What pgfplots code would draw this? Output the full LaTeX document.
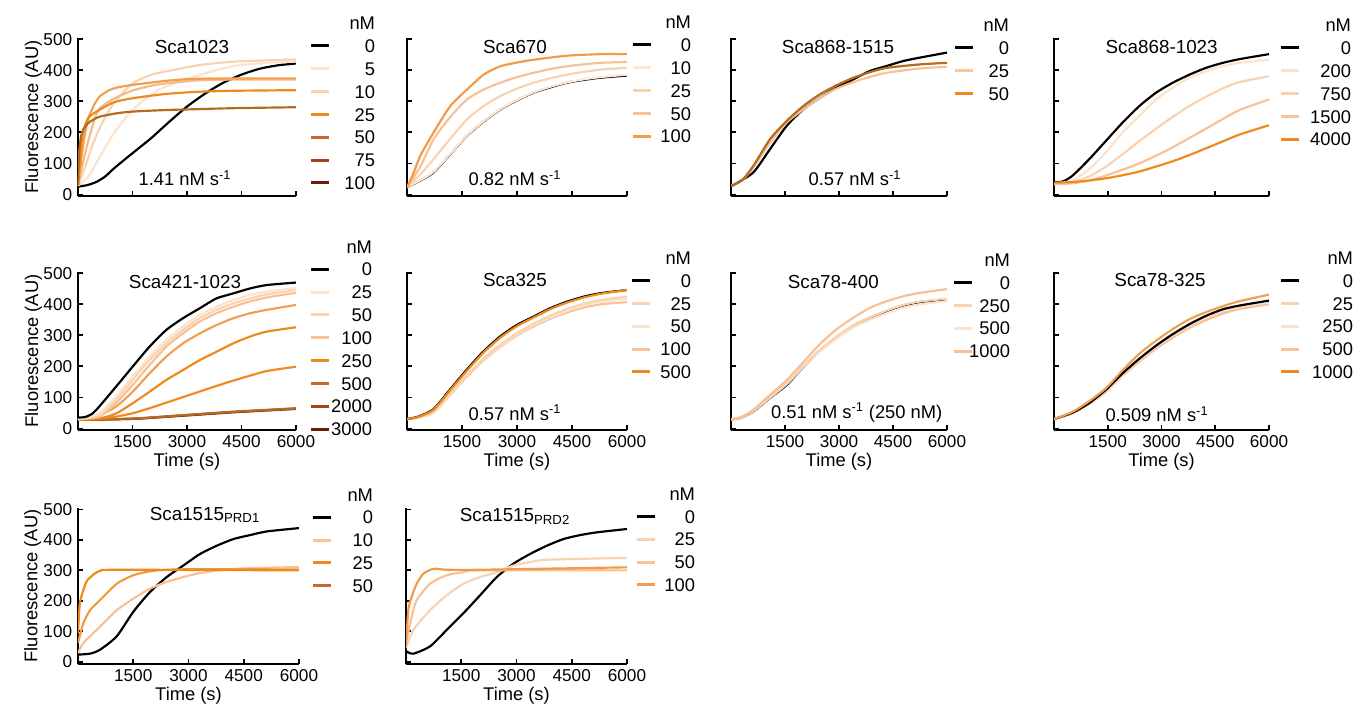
\documentclass[border=0pt]{standalone}
\usepackage{fontspec}
\setmainfont{Liberation Sans}
\usepackage{pgfplots}
\pgfplotsset{compat=1.18}

\newcommand\fs{\fontsize{11pt}{13pt}\selectfont}
\newcommand\ft{\fontsize{10.3pt}{12pt}\selectfont}
\newcommand\fT{\fontsize{11.3pt}{13pt}\selectfont}
\newcommand\rate[1]{#1 nM s\textsuperscript{-1}}
\newcommand\LI[2]{\addlegendimage{#1}\addlegendentry{\makebox[\lw][r]{#2}}}

% legend colours
\definecolor{lvv}{HTML}{FDE8D6}
\definecolor{lv}{HTML}{FCE3CD}
\definecolor{ll}{HTML}{F9D2B0}
\definecolor{lq}{HTML}{F9C89C}
\definecolor{lm}{HTML}{F7C096}
\definecolor{lp}{HTML}{F29A4A}
\definecolor{lo}{HTML}{EE8A1C}
\definecolor{lb}{HTML}{C2692B}
\definecolor{lr}{HTML}{A8421C}
\definecolor{ld}{HTML}{6E1B0B}
% curve colours
\definecolor{cbrown}{HTML}{B66A1E}
\definecolor{cmo}{HTML}{F0A050}
\definecolor{clo}{HTML}{F5BB85}

\pgfplotsset{
  panel/.style={
    scale only axis,
    width=130.8pt, height=94.8pt,
    xmin=0, xmax=6000, ymin=-5, ymax=504,
    axis x line=bottom, axis y line=left,
    axis line style={-, line width=1.1pt},
    tick align=inside,
    major tick length=2.8pt,
    tick style={black, line width=1.1pt},
    xtick={1500,3000,4500,6000}, ytick={0,100,...,500},
    xticklabels={}, yticklabels={},
    ticklabel style={font=\ft},
    every axis plot/.append style={line width=1.3pt, smooth, tension=0.4},
    legend style={draw=none, fill=none, font=\fs, at={(1,1)}, anchor=north west,
      inner sep=0pt, outer sep=0pt, column sep=0pt, row sep=0pt,
      nodes={inner xsep=0pt, inner ysep=2.85pt, text height=8pt, text depth=0pt}},
    legend cell align=right,
    legend image code/.code={\draw[##1, line width=1.8pt] (0pt,0pt) -- (10.8pt,0pt);},
  },
  ylab/.style={yticklabels={0,100,200,300,400,500}, ylabel={Fluorescence (AU)},
    ylabel style={font=\fs, at={(axis description cs:-0.205,0.5)}, anchor=center}},
  xlab/.style={xticklabels={1500,3000,4500,6000}, xlabel={Time (s)},
    xlabel style={font=\fs, at={(axis description cs:0.5,0)}, anchor=center, yshift=-19pt}},
  row3/.style={width=132.6pt, height=93.6pt, ymin=-8, ymax=505},
}

\begin{document}
\begin{tikzpicture}

% ---------- Sca1023
\def\lw{26.4pt}
\begin{axis}[panel, ylab, at={(46.8pt,-117.6pt)}, anchor=south west,
  legend style={xshift=8.4pt, yshift=15.8pt}]
\addlegendimage{empty legend}\addlegendentry{\makebox[\lw][r]{nM}}
\LI{black}{0}\LI{lv}{5}\LI{ll}{10}\LI{lo}{25}\LI{lb}{50}\LI{lr}{75}\LI{ld}{100}
\addplot[forget plot, black] coordinates {(0,25)(250,30)(500,40)(750,58)(1000,85)(1500,133)(2000,180)(2500,233)(3000,283)(3500,325)(4000,360)(4500,386)(5000,405)(5500,416)(6000,422)};
\addplot[forget plot, lv] coordinates {(0,28)(300,60)(600,121)(1000,200)(1500,272)(2000,320)(2400,347)(3350,385)(4300,414)(5200,424)(6000,428)};
\addplot[forget plot, ll] coordinates {(0,28)(200,90)(400,160)(600,215)(850,270)(1100,310)(1500,358)(2000,385)(2400,396)(3350,417)(4300,428)(5200,432)(6000,435)};
\addplot[forget plot, clo] coordinates {(0,28)(150,110)(300,180)(450,240)(581,275)(858,300)(1100,315)(1503,335)(2000,350)(2427,358)(3349,368)(4300,370)(6000,370)};
\addplot[forget plot, cmo] coordinates {(0,28)(100,125)(200,200)(300,250)(450,290)(600,316)(858,336)(1100,345)(1503,353)(2427,366)(3349,373)(6000,374)};
\addplot[forget plot, lo] coordinates {(0,30)(60,115)(120,190)(200,225)(304,250)(581,272)(858,290)(1043,299)(1503,310)(2427,324)(3349,331)(4300,334)(6000,336)};
\addplot[forget plot, cbrown] coordinates {(0,30)(30,130)(80,185)(150,210)(304,232)(581,250)(1043,261)(1503,267)(2427,272)(3349,275)(4300,278)(6000,281)};
\end{axis}

% ---------- Sca670
\def\lw{22.8pt}
\begin{axis}[panel, width=132pt, at={(244.2pt,-117.6pt)}, anchor=south west,
  legend style={xshift=3pt, yshift=16.4pt}]
\addlegendimage{empty legend}\addlegendentry{\makebox[\lw][r]{nM}}
\LI{black}{0}\LI{lvv}{10}\LI{ll}{25}\LI{lm}{50}\LI{lp}{100}
\addplot[forget plot, black] coordinates {(0,23)(364,45)(727,71)(1182,130)(1636,189)(2091,235)(2545,274)(3000,303)(3455,328)(3909,345)(4364,360)(4818,369)(5273,376)(6000,383)};
\addplot[forget plot, lvv] coordinates {(0,23)(364,46)(727,73)(1182,131)(1636,190)(2091,236)(2545,275)(3000,304)(3455,329)(3909,347)(4364,361)(4818,371)(5273,378)(6000,386)};
\addplot[forget plot, ll] coordinates {(0,23)(364,65)(727,114)(1182,180)(1636,242)(2091,285)(2545,317)(3000,341)(3455,360)(3909,374)(4364,386)(4818,395)(5273,402)(6000,408)};
\addplot[forget plot, lm] coordinates {(0,23)(364,90)(727,178)(1182,250)(1636,306)(2091,338)(2545,360)(3000,378)(3455,392)(3909,404)(4364,413)(4818,419)(5273,424)(6000,427)};
\addplot[forget plot, lp] coordinates {(0,23)(182,70)(364,125)(727,200)(1182,285)(1636,338)(2091,386)(2545,413)(3000,425)(3455,434)(4364,447)(5273,452)(6000,452)};
\end{axis}

% ---------- Sca868-1515
\def\lw{21pt}
\begin{axis}[panel, width=129.6pt, at={(438.6pt,-117.6pt)}, anchor=south west,
  legend style={xshift=3.6pt, yshift=14.6pt}]
\addlegendimage{empty legend}\addlegendentry{\makebox[\lw][r]{nM}}
\LI{black}{0}\LI{lq}{25}\LI{lo}{50}
\addplot[forget plot, black] coordinates {(0,28)(65,30)(620,71)(1083,146)(1547,221)(2010,274)(2474,312)(2937,344)(3400,371)(3864,398)(4327,414)(4790,430)(5254,441)(6000,457)};
\addplot[forget plot, lm] coordinates {(0,28)(300,44)(620,87)(1083,167)(1547,232)(2010,274)(2474,312)(2937,341)(3400,362)(3864,379)(4327,392)(5254,406)(6000,411)};
\addplot[forget plot, cbrown] coordinates {(0,28)(300,45)(620,92)(1083,178)(1547,237)(2010,285)(2474,323)(2937,352)(3400,376)(3864,394)(4327,408)(5254,419)(6000,424)};
\end{axis}

% ---------- Sca868-1023
\def\lw{30.6pt}
\begin{axis}[panel, width=129pt, at={(632.4pt,-117.6pt)}, anchor=south west,
  legend style={xshift=6pt, yshift=14.6pt}]
\addlegendimage{empty legend}\addlegendentry{\makebox[\lw][r]{nM}}
\LI{black}{0}\LI{lv}{200}\LI{ll}{750}\LI{lm}{1500}\LI{lo}{4000}
\addplot[forget plot, black] coordinates {(0,39)(250,42)(521,61)(986,114)(1452,173)(1918,232)(2384,285)(2849,328)(3315,360)(3780,386)(4246,408)(4712,424)(5177,436)(6000,452)};
\addplot[forget plot, lv] coordinates {(0,35)(521,45)(986,82)(1452,136)(1918,200)(2384,253)(2849,306)(3315,344)(3780,376)(4246,397)(4712,413)(5177,424)(6000,434)};
\addplot[forget plot, ll] coordinates {(0,35)(521,40)(986,58)(1452,90)(1918,130)(2384,172)(2849,212)(3315,250)(3780,285)(4246,315)(4712,342)(5177,362)(6000,381)};
\addplot[forget plot, lm] coordinates {(0,33)(521,36)(986,45)(1452,61)(1918,80)(2384,100)(2849,125)(3315,152)(3780,182)(4246,212)(4712,243)(5177,272)(6000,306)};
\addplot[forget plot, lo] coordinates {(0,38)(521,40)(986,45)(1452,52)(1918,62)(2384,74)(2849,90)(3315,107)(3780,127)(4246,149)(4712,171)(5177,193)(6000,223)};
\end{axis}

% ---------- Sca421-1023
\def\lw{24.6pt}
\begin{axis}[panel, ylab, xlab, at={(46.8pt,-258pt)}, anchor=south west,
  legend style={xshift=8.4pt, yshift=22.2pt}]
\addlegendimage{empty legend}\addlegendentry{\makebox[\lw][r]{nM}}
\LI{black}{0}\LI{lv}{25}\LI{ll}{50}\LI{lm}{100}\LI{lo}{250}\LI{lb}{500}\LI{lr}{2000}\LI{ld}{3000}
\addplot[forget plot, ld] coordinates {(0,28)(1503,31)(2888,41)(4272,52)(6000,63)};
\addplot[forget plot, lr] coordinates {(0,28)(1503,31)(2888,42)(4272,53)(6000,64)};
\addplot[forget plot, cbrown] coordinates {(0,28)(1503,32)(2888,43)(4272,54)(6000,65)};
\addplot[forget plot, lo] coordinates {(0,28)(581,31)(1043,38)(1503,49)(1965,65)(2427,83)(2888,101)(3349,119)(3810,137)(4272,154)(4733,170)(5195,185)(6000,199)};
\addplot[forget plot, lo] coordinates {(0,30)(581,32)(1043,48)(1503,81)(1965,118)(2427,156)(2888,188)(3349,220)(3810,247)(4272,274)(4733,296)(5195,312)(6000,326)};
\addplot[forget plot, cmo] coordinates {(0,30)(581,43)(1043,70)(1503,118)(1965,177)(2427,231)(2888,274)(3349,306)(3810,333)(4272,355)(4733,371)(5195,382)(6000,398)};
\addplot[forget plot, lm] coordinates {(0,30)(581,38)(1043,81)(1503,140)(1965,204)(2427,263)(2888,306)(3349,344)(3810,371)(4272,392)(4733,409)(5195,422)(6000,437)};
\addplot[forget plot, ll] coordinates {(0,30)(581,42)(1043,91)(1503,156)(1965,220)(2427,274)(2888,317)(3349,355)(3810,382)(4272,403)(4733,419)(5195,432)(6000,446)};
\addplot[forget plot, lv] coordinates {(0,30)(581,48)(1043,102)(1503,167)(1965,231)(2427,285)(2888,328)(3349,366)(3810,392)(4272,414)(4733,430)(5195,441)(6000,452)};
\addplot[forget plot, black] coordinates {(0,35)(200,37)(397,48)(581,70)(1043,134)(1503,199)(1965,263)(2427,317)(2888,355)(3349,387)(3810,419)(4272,435)(4733,451)(5195,462)(6000,470)};
\end{axis}

% ---------- Sca325
\def\lw{23.4pt}
\begin{axis}[panel, xlab, width=132pt, at={(244.2pt,-258pt)}, anchor=south west,
  legend style={xshift=2.4pt, yshift=15.4pt}]
\addlegendimage{empty legend}\addlegendentry{\makebox[\lw][r]{nM}}
\LI{black}{0}\LI{ll}{25}\LI{lv}{50}\LI{lm}{100}\LI{lo}{500}
\addplot[forget plot, lm] coordinates {(0,30)(300,35)(721,51)(1178,108)(1635,167)(2091,220)(2548,263)(3005,300)(3461,329)(3918,354)(4375,374)(4831,390)(5288,400)(6000,407)};
\addplot[forget plot, lv] coordinates {(0,30)(300,36)(721,52)(1178,110)(1635,170)(2091,223)(2548,266)(3005,303)(3461,333)(3918,358)(4375,379)(4831,396)(5288,408)(6000,418)};
\addplot[forget plot, ll] coordinates {(0,30)(300,36)(721,53)(1178,112)(1635,172)(2091,226)(2548,270)(3005,308)(3461,338)(3918,364)(4375,386)(4831,402)(5288,414)(6000,425)};
\addplot[forget plot, black] coordinates {(0,30)(300,38)(721,62)(1178,126)(1635,190)(2091,249)(2548,297)(3005,334)(3461,361)(3918,388)(4375,409)(4831,425)(5288,436)(6000,446)};
\addplot[forget plot, lo] coordinates {(0,30)(300,37)(721,60)(1178,123)(1635,186)(2091,245)(2548,293)(3005,330)(3461,358)(3918,385)(4375,406)(4831,422)(5288,434)(6000,446)};
\end{axis}

% ---------- Sca78-400
\def\lw{22.2pt}
\begin{axis}[panel, xlab, width=129.6pt, at={(438.6pt,-258pt)}, anchor=south west,
  legend style={xshift=3pt, yshift=14.2pt}]
\addlegendimage{empty legend}\addlegendentry{\makebox[\lw][r]{nM}}
\LI{black}{0}\LI{ll}{250}\LI{lv}{500}\LI{lm}{1000}
\addplot[forget plot, black] coordinates {(0,29)(300,35)(620,55)(1083,98)(1547,140)(2010,198)(2474,251)(2937,294)(3400,331)(3864,357)(4327,378)(4790,396)(5254,407)(6000,416)};
\addplot[forget plot, lv] coordinates {(0,29)(300,35)(620,56)(1083,99)(1547,143)(2010,198)(2474,248)(2937,290)(3400,325)(3864,350)(4327,371)(4790,389)(5254,400)(6000,410)};
\addplot[forget plot, ll] coordinates {(0,29)(300,36)(620,57)(1083,101)(1547,146)(2010,202)(2474,254)(2937,296)(3400,332)(3864,358)(4327,380)(4790,398)(5254,409)(6000,418)};
\addplot[forget plot, lm] coordinates {(0,29)(300,38)(620,60)(1083,108)(1547,156)(2010,214)(2474,272)(2937,320)(3400,357)(3864,389)(4327,410)(4790,426)(5254,437)(6000,449)};
\end{axis}

% ---------- Sca78-325
\def\lw{31.8pt}
\begin{axis}[panel, xlab, width=129pt, at={(632.4pt,-258pt)}, anchor=south west,
  legend style={xshift=6pt, yshift=15.4pt}]
\addlegendimage{empty legend}\addlegendentry{\makebox[\lw][r]{nM}}
\LI{black}{0}\LI{ll}{25}\LI{lv}{250}\LI{lm}{500}\LI{lo}{1000}
\addplot[forget plot, lm] coordinates {(0,30)(521,49)(986,79)(1452,118)(1918,170)(2384,216)(2849,257)(3315,293)(3780,324)(4246,349)(4712,370)(5177,385)(6000,400)};
\addplot[forget plot, ll] coordinates {(0,30)(521,50)(986,80)(1452,120)(1918,172)(2384,220)(2849,262)(3315,299)(3780,330)(4246,356)(4712,377)(5177,391)(6000,405)};
\addplot[forget plot, lv] coordinates {(0,30)(521,50)(986,81)(1452,122)(1918,175)(2384,222)(2849,264)(3315,301)(3780,333)(4246,359)(4712,380)(5177,393)(6000,407)};
\addplot[forget plot, black] coordinates {(0,30)(521,51)(986,82)(1452,125)(1918,178)(2384,225)(2849,267)(3315,304)(3780,336)(4246,363)(4712,384)(5177,396)(6000,412)};
\addplot[forget plot, cmo] coordinates {(0,30)(521,54)(986,88)(1452,130)(1918,188)(2384,241)(2849,283)(3315,320)(3780,352)(4246,375)(4712,394)(5177,410)(6000,431)};
\end{axis}

% ---------- Sca1515 PRD1
\def\lw{24pt}
\begin{axis}[panel, row3, ylab, xlab, at={(46.8pt,-398.4pt)}, anchor=south west,
  legend style={xshift=7.8pt, yshift=15pt}]
\addlegendimage{empty legend}\addlegendentry{\makebox[\lw][r]{nM}}
\LI{black}{0}\LI{lm}{10}\LI{lo}{25}\LI{lb}{50}
\addplot[forget plot, black] coordinates {(0,23)(326,26)(598,39)(1051,83)(1503,164)(1956,229)(2409,278)(2862,316)(3315,354)(3767,381)(4220,403)(4673,416)(5126,428)(6000,439)};
\addplot[forget plot, lm] coordinates {(0,28)(145,61)(598,115)(1051,169)(1503,207)(1956,240)(2409,262)(2862,278)(3315,291)(4220,305)(6000,311)};
\addplot[forget plot, color=lo!85!white] coordinates {(0,61)(145,126)(326,169)(598,202)(1051,256)(1503,284)(1956,297)(2409,302)(3315,304)(6000,303)};
\addplot[forget plot, lo] coordinates {(0,93)(50,191)(145,235)(250,267)(450,289)(598,298)(1051,302)(6000,300)};
\end{axis}

% ---------- Sca1515 PRD2
\def\lw{23.4pt}
\begin{axis}[panel, row3, xlab, at={(243.6pt,-398.4pt)}, anchor=south west,
  legend style={xshift=4.8pt, yshift=15.5pt}]
\addlegendimage{empty legend}\addlegendentry{\makebox[\lw][r]{nM}}
\LI{black}{0}\LI{ll}{25}\LI{lm}{50}\LI{lp}{100}
\addplot[forget plot, black] coordinates {(0,34)(199,26)(652,50)(1105,104)(1558,159)(2011,218)(2464,278)(2917,322)(3370,354)(3823,381)(4276,403)(4729,416)(5182,425)(6000,436)};
\addplot[forget plot, ll] coordinates {(0,44)(199,104)(652,169)(1105,218)(1558,256)(2011,278)(2464,294)(2917,316)(3370,327)(3823,335)(6000,341)};
\addplot[forget plot, lm] coordinates {(0,61)(154,148)(290,202)(652,256)(1105,284)(1558,294)(2011,300)(6000,300)};
\addplot[forget plot, lp] coordinates {(0,50)(63,169)(154,213)(290,256)(471,289)(743,305)(1105,302)(2011,302)(6000,310)};
\end{axis}

% titles and rates
\node[font=\fT] at (115.2pt,-28.2pt) {Sca1023};
\node[font=\fs] at (111pt,-106.8pt) {\rate{1.41}};
\node[font=\fT] at (309pt,-28.5pt) {Sca670};
\node[font=\fs] at (309pt,-106.8pt) {\rate{0.82}};
\node[font=\fT] at (502.8pt,-28.5pt) {Sca868-1515};
\node[font=\fs] at (513pt,-106.8pt) {\rate{0.57}};
\node[font=\fT] at (697pt,-28.5pt) {Sca868-1023};
\node[font=\fT] at (111pt,-169pt) {Sca421-1023};
\node[font=\fT] at (309pt,-168pt) {Sca325};
\node[font=\fs] at (309pt,-247.6pt) {\rate{0.57}};
\node[font=\fT] at (500pt,-169pt) {Sca78-400};
\node[font=\fs] at (514pt,-247.6pt) {\rate{0.51} (250 nM)};
\node[font=\fT] at (696pt,-168pt) {Sca78-325};
\node[font=\fs] at (694.2pt,-248.4pt) {\rate{0.509}};
\node[font=\fT] at (123pt,-309pt) {Sca1515\textsubscript{PRD1}};
\node[font=\fT] at (309pt,-310pt) {Sca1515\textsubscript{PRD2}};

\path (0pt,0pt) rectangle (813pt,-425.4pt);
\end{tikzpicture}
\end{document}
